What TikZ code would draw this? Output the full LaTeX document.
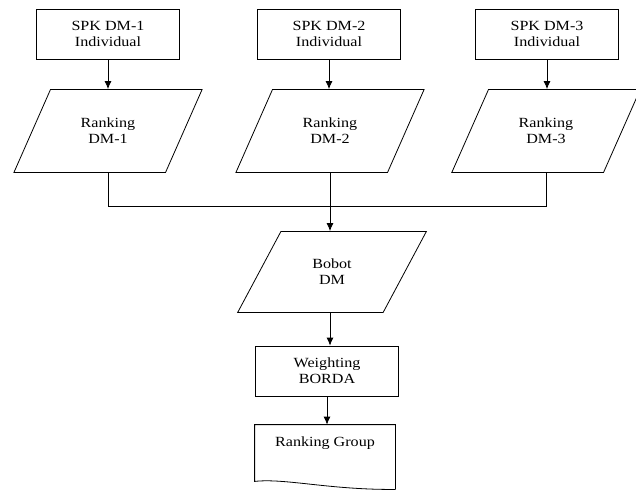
\documentclass[tikz,border=0pt]{standalone}
\usepackage{fontspec}
\setmainfont{Liberation Serif}[FakeStretch=1.15]
\usetikzlibrary{shapes.geometric,arrows.meta}

\begin{document}
\begin{tikzpicture}[>={Latex[length=8pt,width=7pt]}, x=1pt, y=-1pt, line width=0.8pt,
    font=\fontsize{14}{16}\selectfont,
    proc/.style={draw, rectangle, minimum width=143pt, minimum height=50pt, align=center},
    data/.style={draw, trapezium, trapezium left angle=59, trapezium right angle=121,
      trapezium stretches, minimum width=190pt, minimum height=83pt, align=center}]
  \useasboundingbox (0,0) rectangle (636,491);

  % Individual DSS
  \node[proc] (spk1) at (108,34) {SPK DM-1\\Individual};
  \node[proc] (spk2) at (329,34) {SPK DM-2\\Individual};
  \node[proc] (spk3) at (547,34) {SPK DM-3\\Individual};

  % Rankings
  \node[data] (rank1) at (108,131) {Ranking\\DM-1};
  \node[data] (rank2) at (330,131) {Ranking\\DM-2};
  \node[data] (rank3) at (546,131) {Ranking\\DM-3};

  \draw[->] (spk1.south) -- (spk1.south |- rank1.north);
  \draw[->] (spk2.south) -- (spk2.south |- rank2.north);
  \draw[->] (spk3.south) -- (spk3.south |- rank3.north);

  % Merge
  \coordinate (join) at (330,206);
  \draw (rank1.center |- rank1.south) |- (join);
  \draw (rank3.center |- rank3.south) |- (join);

  \node[data, minimum height=81pt] (bobot) at (332,272) {Bobot\\DM};
  \draw[->] (rank2.center |- rank2.south) -- (rank2.center |- bobot.north);

  \node[proc] (weight) at (327,371) {Weighting\\BORDA};
  \draw[->] (rank2.center |- bobot.south) -- (rank2.center |- weight.north);

  % Result document
  \node[minimum width=140pt, minimum height=64pt] (doc) at (325,457) {};
  \node (doctext) at (325,443) {Ranking Group};
  \draw[->] (weight.south) -- (weight.south |- doc.north);
  \draw (doc.south east) -- (doc.north east) -- (doc.north west)
    -- ([yshift=8pt]doc.south west) .. controls (285,478) and (330,490) .. (doc.south east);
\end{tikzpicture}
\end{document}
